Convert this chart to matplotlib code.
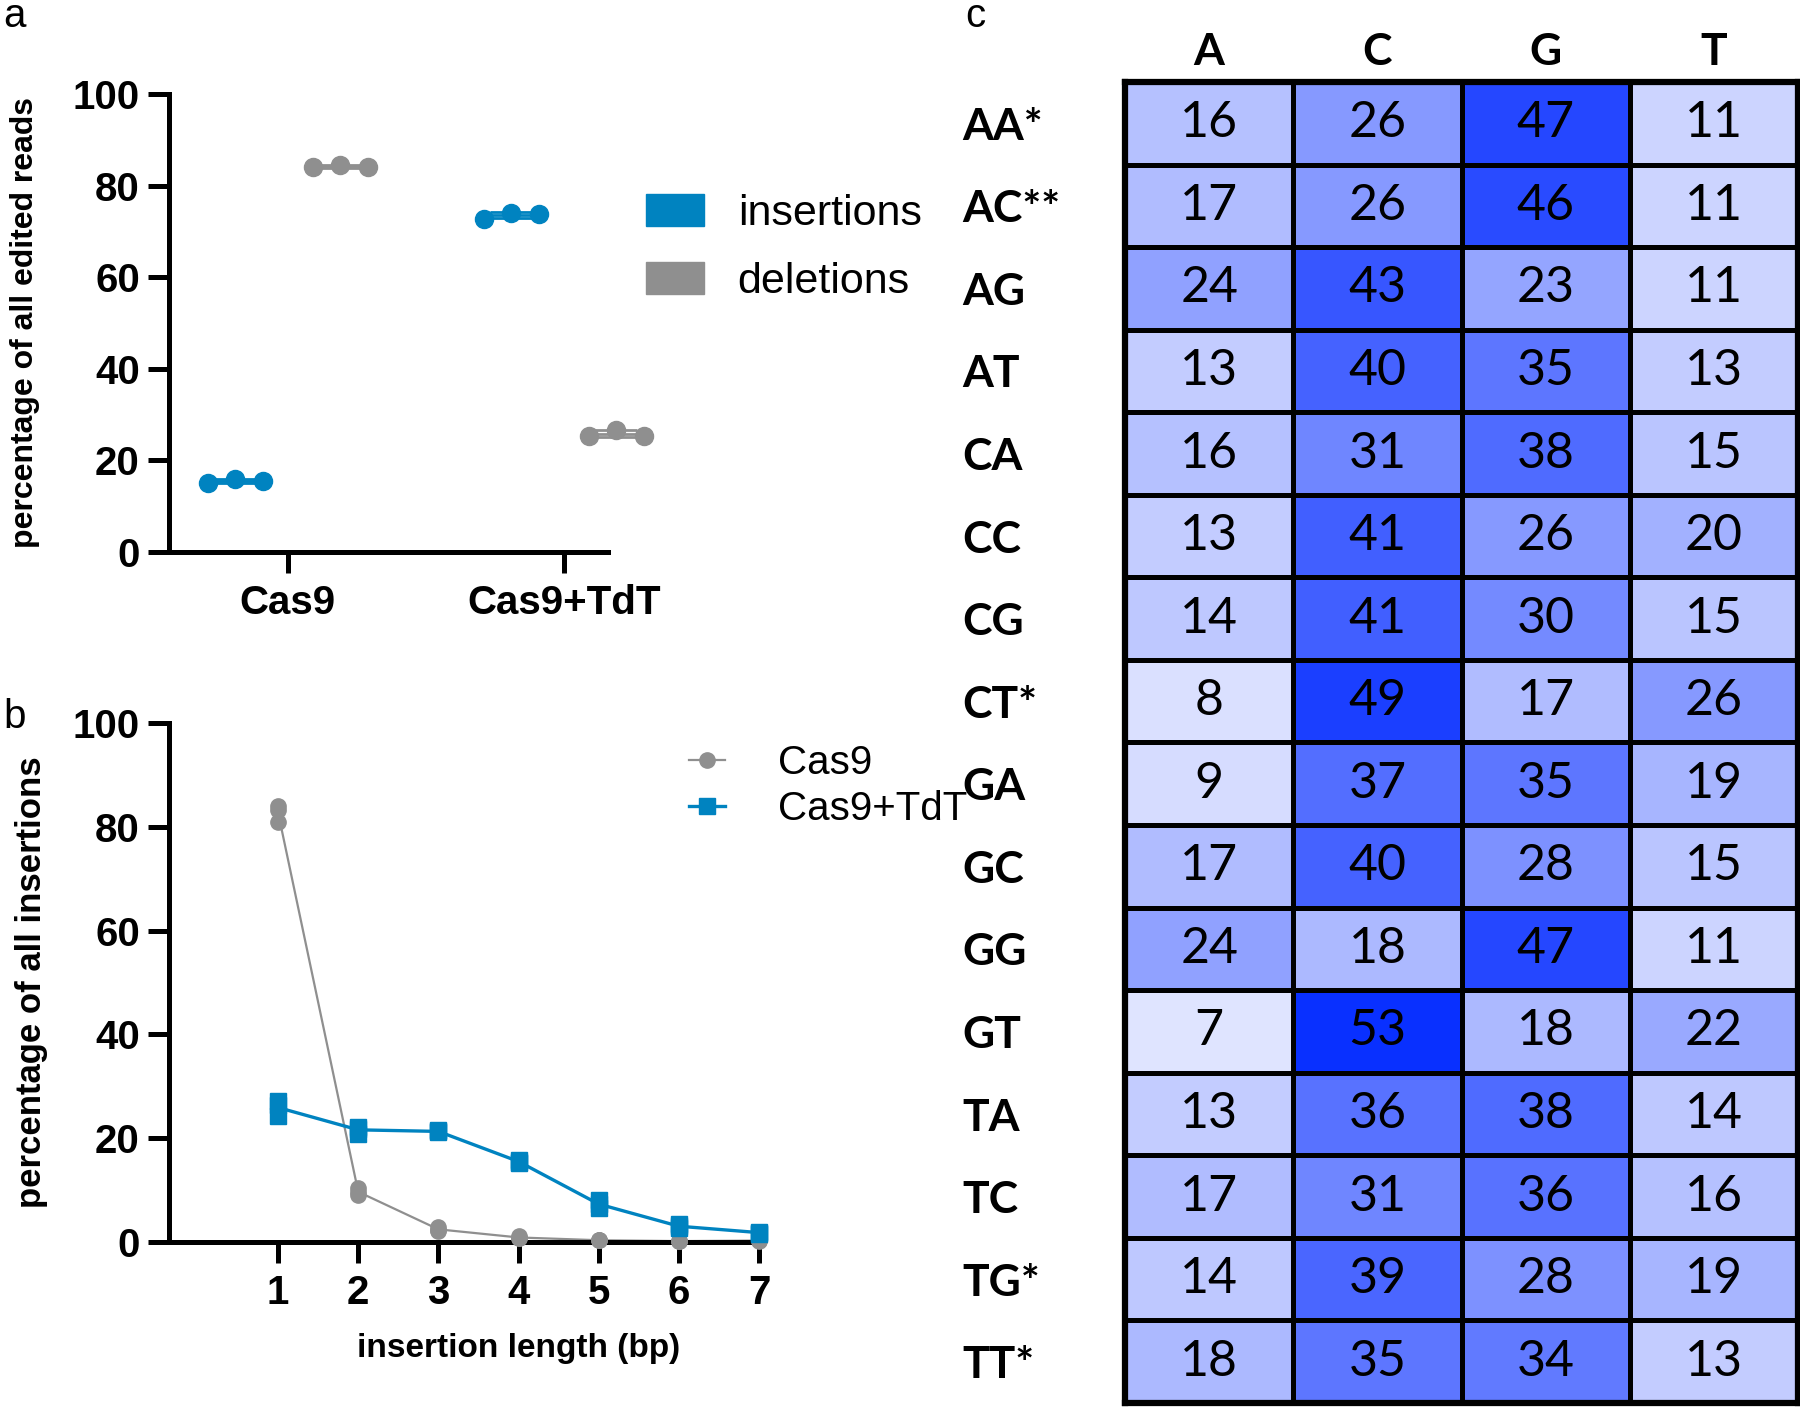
import matplotlib
matplotlib.use('Agg')
import matplotlib.pyplot as plt
from matplotlib.colors import LinearSegmentedColormap
from matplotlib.patches import Patch
from matplotlib.lines import Line2D
import numpy as np

# ---- panel a: insertions vs deletions (3 replicates each) ----
groups_a = ['Cas9', 'Cas9+TdT']
ins_a = [[15.0, 15.9, 15.4], [72.8, 74.1, 73.8]]
del_a = [[84.0, 84.5, 84.1], [25.4, 26.7, 25.4]]

# ---- panel b: insertion length distribution (3 replicates) ----
lengths = [1, 2, 3, 4, 5, 6, 7]
cas9_b = [[84.0, 83.3, 81.0], [10.4, 9.0, 9.6], [2.8, 2.2, 2.3], [1.1, 0.7, 0.8],
          [0.4, 0.3, 0.3], [0.2, 0.1, 0.2], [0.3, 0.2, 0.3]]
tdt_b = [[27.2, 24.2, 26.3], [22.2, 20.8, 21.8], [21.5, 21.1, 21.3], [15.8, 15.2, 15.5],
         [8.0, 6.6, 7.3], [3.4, 2.7, 3.0], [2.0, 1.6, 1.8]]

# ---- panel c: nucleotide heatmap ----
cols_c = ['A', 'C', 'G', 'T']
rows_c = ['AA*', 'AC**', 'AG', 'AT', 'CA', 'CC', 'CG', 'CT*',
          'GA', 'GC', 'GG', 'GT', 'TA', 'TC', 'TG*', 'TT*']
vals_c = [[16, 26, 47, 11], [17, 26, 46, 11], [24, 43, 23, 11], [13, 40, 35, 13],
          [16, 31, 38, 15], [13, 41, 26, 20], [14, 41, 30, 15], [8, 49, 17, 26],
          [9, 37, 35, 19], [17, 40, 28, 15], [24, 18, 47, 11], [7, 53, 18, 22],
          [13, 36, 38, 14], [17, 31, 36, 16], [14, 39, 28, 19], [18, 35, 34, 13]]

BLUE = '#0083c0'
GRAY = '#8f8f8f'
SANS = ['Liberation Sans', 'DejaVu Sans']
CAL = ['Lato', 'DejaVu Sans']

plt.rcParams['font.family'] = SANS

fig = plt.figure(figsize=(18, 14.07), dpi=100)


def style_axes(ax):
    for s in ['top', 'right']:
        ax.spines[s].set_visible(False)
    for s in ['left', 'bottom']:
        ax.spines[s].set_linewidth(3.6)
    ax.tick_params(width=3.6, length=15, labelsize=29, pad=6)
    ax.tick_params(axis='x', pad=8)
    for lab in ax.get_xticklabels() + ax.get_yticklabels():
        lab.set_fontweight('bold')


# ---------------- panel a ----------------
axa = fig.add_axes([0.0939, 0.6077, 0.2439, 0.3255])
spread = np.array([-0.1, 0.0, 0.1])
for i, g in enumerate(groups_a):
    for vals, off, col in [(ins_a[i], -0.19, BLUE), (del_a[i], 0.19, GRAY)]:
        xc = i + off
        m = np.mean(vals)
        sd = np.std(vals, ddof=1)
        axa.hlines(m, xc - 0.1, xc + 0.1, color=col, lw=2, clip_on=False)
        axa.errorbar(xc, m, yerr=sd, color=col, capsize=15, capthick=2, lw=2, clip_on=False)
        axa.plot(xc + spread, vals, 'o', color=col, ms=13, zorder=3, clip_on=False)
axa.set_xlim(-0.43, 1.16)
axa.set_ylim(0, 100)
axa.set_yticks([0, 20, 40, 60, 80, 100])
axa.set_xticks([0, 1])
axa.set_xticklabels(groups_a)
style_axes(axa)
axa.set_ylabel('percentage of all edited reads', fontsize=23, fontweight='bold')
axa.yaxis.set_label_coords(-0.294, 0.5)
axa.legend(handles=[Patch(color=BLUE), Patch(color=GRAY)], labels=['insertions', 'deletions'],
           loc='upper left', bbox_to_anchor=(646 / 1800, 1 - 194 / 1407),
           bbox_transform=fig.transFigure, frameon=False, fontsize=31,
           handlelength=1.35, handleheight=0.74, handletextpad=0.78,
           labelspacing=0.65, borderpad=0, borderaxespad=0)

# ---------------- panel b ----------------
axb = fig.add_axes([0.0939, 0.1173, 0.33, 0.3689])
x_rep = np.repeat(lengths, 3)
axb.plot(lengths, [np.mean(v) for v in cas9_b], '-', color=GRAY, lw=1.6, zorder=2)
axb.plot(x_rep, np.ravel(cas9_b), 'o', color=GRAY, ms=11, zorder=3, clip_on=False)
axb.plot(lengths, [np.mean(v) for v in tdt_b], '-', color=BLUE, lw=2.4, zorder=2)
axb.plot(x_rep, np.ravel(tdt_b), 's', color=BLUE, ms=12, zorder=3, clip_on=False)
axb.set_xlim(-0.36, 7.05)
axb.set_ylim(0, 100)
axb.set_yticks([0, 20, 40, 60, 80, 100])
axb.set_xticks(lengths)
style_axes(axb)
axb.set_ylabel('percentage of all insertions', fontsize=25, fontweight='bold')
axb.yaxis.set_label_coords(-0.204, 0.5)
axb.set_xlabel('insertion length (bp)', fontsize=24, fontweight='bold')
axb.xaxis.set_label_coords(0.589, -0.206)
axb.xaxis.label.set_va('center')
hb = [Line2D([0], [0], color=GRAY, lw=1.6, marker='o', ms=11),
      Line2D([0], [0], color=BLUE, lw=2.4, marker='s', ms=11)]
axb.legend(handles=hb, labels=['Cas9', 'Cas9+TdT'], loc='upper left',
           bbox_to_anchor=(689 / 1800, 1 - 744 / 1407), bbox_transform=fig.transFigure,
           frameon=False, fontsize=29, handlelength=0.9, handletextpad=1.3,
           labelspacing=0.2, borderpad=0, borderaxespad=0)

# ---------------- panel c ----------------
axc = fig.add_axes([0.625, 0.00284, 0.3739, 0.9389])
cmap = LinearSegmentedColormap.from_list('wb', ['#ffffff', '#0028ff'])
data = np.array(vals_c)
axc.pcolormesh(data, cmap=cmap, vmin=0, vmax=55, edgecolors='black', linewidth=3.5)
axc.set_xlim(0, len(cols_c))
axc.set_ylim(len(rows_c), 0)
for r in range(len(rows_c)):
    for c in range(len(cols_c)):
        axc.text(c + 0.5, r + 0.5, str(data[r, c]), ha='center', va='center',
                 fontsize=36, family=CAL)
axc.set_xticks(np.arange(len(cols_c)) + 0.5)
axc.set_xticklabels(cols_c, fontsize=32, fontweight='bold', family=CAL)
axc.xaxis.tick_top()
axc.set_yticks(np.arange(len(rows_c)) + 0.5)
axc.set_yticklabels(rows_c, fontsize=32, fontweight='bold', family=CAL, ha='left')
axc.tick_params(axis='both', length=0)
axc.tick_params(axis='x', pad=7)
axc.tick_params(axis='y', pad=117)
for s in axc.spines.values():
    s.set_linewidth(4.5)

# panel letters
fig.text(0.002, 1 - 27 / 1407, 'a', fontsize=29)
fig.text(0.002, 1 - 728 / 1407, 'b', fontsize=29)
fig.text(965 / 1800, 1 - 27 / 1407, 'c', fontsize=29)

fig.savefig('out.png', dpi=100)
